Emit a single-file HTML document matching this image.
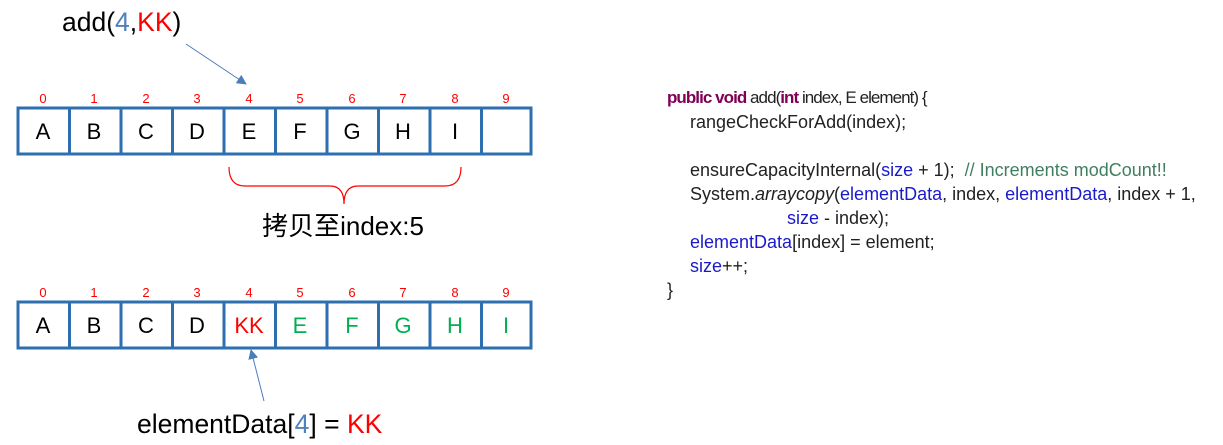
<!DOCTYPE html>
<html><head><meta charset="utf-8"><style>
html,body{margin:0;padding:0;background:#fff;}
body{width:1223px;height:445px;overflow:hidden;position:relative;}
svg{position:absolute;left:0;top:0;}
.code{position:absolute;left:667px;top:86px;font-family:"Liberation Sans",sans-serif;font-size:18px;line-height:24px;color:#222;}
.code div{height:24px;white-space:pre;}
.k{color:#7f0055;font-weight:bold}.b{color:#1a1acc}.c{color:#3f7f5f}
</style></head><body>
<svg width="1223" height="445" font-family="Liberation Sans, Noto Sans CJK SC, sans-serif">
<defs><marker id="ar" markerWidth="10" markerHeight="10" refX="9" refY="5" orient="auto" markerUnits="userSpaceOnUse"><path d="M0,0 L10,5 L0,10 z" fill="#4a7ebb"/></marker></defs>
<text x="62" y="31" font-size="26.5">add(<tspan fill="#4f81bd">4</tspan>,<tspan fill="#ff0000">KK</tspan>)</text>
<line x1="186" y1="44" x2="246" y2="84" stroke="#4a7ebb" stroke-width="1" marker-end="url(#ar)"/>
<g font-size="13" fill="#ff0000" text-anchor="middle">
<text x="43" y="103">0</text><text x="94" y="103">1</text><text x="146" y="103">2</text><text x="197" y="103">3</text><text x="249" y="103">4</text><text x="300" y="103">5</text><text x="352" y="103">6</text><text x="403" y="103">7</text><text x="455" y="103">8</text><text x="506" y="103">9</text>
<text x="43" y="297">0</text><text x="94" y="297">1</text><text x="146" y="297">2</text><text x="197" y="297">3</text><text x="249" y="297">4</text><text x="300" y="297">5</text><text x="352" y="297">6</text><text x="403" y="297">7</text><text x="455" y="297">8</text><text x="506" y="297">9</text>
</g>
<g stroke="#2e6fb0" stroke-width="3" fill="none">
<rect x="18" y="108" width="513" height="46"/>
<path d="M69.5,108V154M121,108V154M172.5,108V154M224,108V154M275.5,108V154M327,108V154M378.5,108V154M430,108V154M481.5,108V154"/>
<rect x="18" y="302" width="513" height="46"/>
<path d="M69.5,302V348M121,302V348M172.5,302V348M224,302V348M275.5,302V348M327,302V348M378.5,302V348M430,302V348M481.5,302V348"/>
</g>
<g font-size="22" text-anchor="middle">
<text x="43" y="139">A</text><text x="94" y="139">B</text><text x="146" y="139">C</text><text x="197" y="139">D</text><text x="249" y="139">E</text><text x="300" y="139">F</text><text x="352" y="139">G</text><text x="403" y="139">H</text><text x="455" y="139">I</text>
<text x="43" y="333">A</text><text x="94" y="333">B</text><text x="146" y="333">C</text><text x="197" y="333">D</text>
<text x="249" y="333" fill="#ff0000">KK</text>
<g fill="#00b050"><text x="300" y="333">E</text><text x="352" y="333">F</text><text x="403" y="333">G</text><text x="455" y="333">H</text><text x="506" y="333">I</text></g>
</g>
<path d="M229,167 Q229,186 245,186 L330,186 Q344,186 344,204 Q344,186 358,186 L445,186 Q461,186 461,167" stroke="#ff0000" stroke-width="1.2" fill="none"/>
<text x="343" y="235" font-size="26" text-anchor="middle">拷贝至index:5</text>
<line x1="264" y1="401" x2="251" y2="350" stroke="#4a7ebb" stroke-width="1" marker-end="url(#ar)"/>
<text x="137" y="433" font-size="26.5">elementData[<tspan fill="#4f81bd">4</tspan>] = <tspan fill="#ff0000">KK</tspan></text>
</svg>
<div class="code"><div style="font-size:17px;letter-spacing:-0.95px"><span class="k">public void</span> add(<span class="k">int</span> index, E element) {</div><div style="padding-left:23px">rangeCheckForAdd(index);</div><div></div><div style="padding-left:23px">ensureCapacityInternal(<span class="b">size</span> + 1);  <span class="c">// Increments modCount!!</span></div><div style="padding-left:23px">System.<i>arraycopy</i>(<span class="b">elementData</span>, index, <span class="b">elementData</span>, index + 1,</div><div style="padding-left:120px"><span class="b">size</span> - index);</div><div style="padding-left:23px"><span class="b">elementData</span>[index] = element;</div><div style="padding-left:23px"><span class="b">size</span>++;</div><div>}</div></div>
</body></html>
